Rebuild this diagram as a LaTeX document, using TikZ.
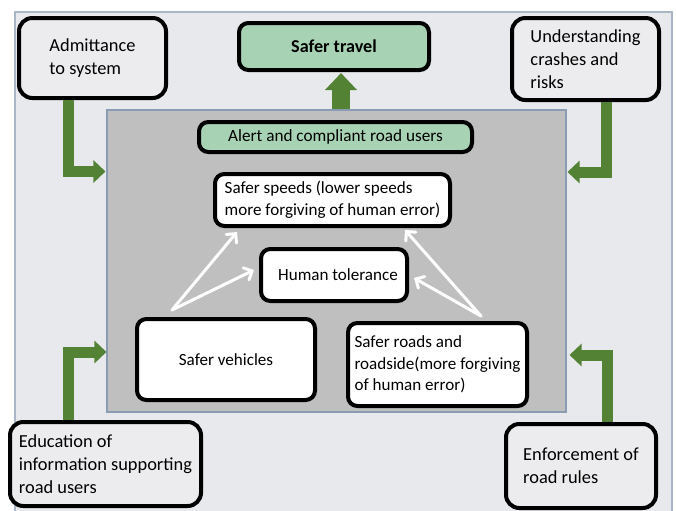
\documentclass[tikz,border=0pt]{standalone}
\usepackage{fontspec}
\setmainfont{Carlito}
\usetikzlibrary{arrows.meta,calc}
\definecolor{bgc}{HTML}{E8E9ED}
\definecolor{bordc}{HTML}{A9B6C8}
\definecolor{boxc}{HTML}{ECECEE}
\definecolor{sysc}{HTML}{BFBFBF}
\definecolor{sysb}{HTML}{8A9BB4}
\definecolor{mint}{HTML}{A8D2B4}
\definecolor{arrg}{HTML}{548235}
\tikzset{
  base/.style={draw=black, line width=3pt, inner sep=0pt, align=left},
  obox/.style={base, rounded corners=10pt, fill=boxc, font=\fontsize{13.8}{17.25}\selectfont},
  ibox/.style={base, rounded corners=7pt, fill=white, font=\fontsize{12.8}{16.2}\selectfont},
  gbox/.style={base, rounded corners=7pt, fill=mint},
  garr/.style={draw=arrg, line width=8.25pt, line join=miter,
    -{Triangle[length=9pt, width=16.5pt]}},
  warr/.style={draw=white, line width=2.25pt, line cap=round,
    -{Straight Barb[length=5pt, width=10pt, line cap=round]}}
}
\begin{document}
\begin{tikzpicture}[x=0.75pt,y=-0.75pt]
\useasboundingbox (0,0) rectangle (676,511);
\fill[white] (0,0) rectangle (676,511);
\draw[fill=bgc, draw=bordc, line width=0.8pt] (15,12) rectangle (672,512);

% central system panel
\node[draw=sysb, fill=sysc, line width=0.8pt, minimum width=344.25pt, minimum height=226.5pt, inner sep=0pt] (sys) at (336.5,261) {};

% outer boxes
\node[obox, minimum width=110.25pt, minimum height=60pt] (adm) at (92.5,58) {Admittance\\to system};
\node[obox, minimum width=110.25pt, minimum height=61.5pt] (und) at (585.5,59) {Understanding\\crashes and\\risks};
\node[obox, minimum width=143.25pt, minimum height=63pt] (edu) at (105.5,464) {Education of\\information supporting\\road users};
\node[obox, minimum width=112.5pt, minimum height=63pt] (enf) at (581,466) {Enforcement of\\road rules};

% green boxes
\node[gbox, minimum width=142.5pt, minimum height=35.25pt, font=\fontsize{13.6}{16}\selectfont\bfseries] (trv) at (334,46.5) {Safer travel};
\node[gbox, minimum width=204.75pt, minimum height=22.5pt, font=\fontsize{12.9}{16}\selectfont] (alr) at (335.5,137) {Alert and compliant road users};

% inner boxes
\node[ibox, minimum width=176.25pt, minimum height=39pt] (spd) at (332.5,200) {Safer speeds (lower speeds\\more forgiving of human error)};
\node[ibox, minimum width=109.5pt, minimum height=39pt] (hum) at (334,275) {\hspace*{6pt}Human tolerance};
\node[ibox, minimum width=133.5pt, minimum height=60.75pt] (veh) at (226,359.5) {Safer vehicles};
\node[ibox, minimum width=134.25pt, minimum height=62.25pt] (rds) at (437.5,364.5) {Safer roads and\\roadside(more forgiving\\of human error)};

% bend coordinates for green arrows
\coordinate (cL1) at (68.5,171.5);
\coordinate (cR1) at (606,172);
\coordinate (cL2) at (68.5,352);
\coordinate (cR2) at (607.5,355);
\coordinate (cT) at (341,73);

\draw[garr] (adm.south -| cL1) |- ($(sys.west |- cL1)+(-1,0)$);
\draw[garr] (und.south -| cR1) |- ($(sys.east |- cR1)+(1,0)$);
\draw[garr] (edu.north -| cL2) |- (sys.west |- cL2);
\draw[garr] (enf.north -| cR2) |- ($(sys.east |- cR2)+(3,0)$);
\draw[draw=arrg, line width=13.5pt, -{Triangle[length=12.75pt, width=23.25pt]}] (sys.north -| cT) -- (cT);

% white arrows
\coordinate (vO) at ($(veh.north)+(-54,-7)$);
\coordinate (rO) at ($(rds.north)+(43.5,-5)$);
\draw[warr] (vO) -- ($(spd.south)+(-95.5,4)$);
\draw[warr] (vO) -- ($(hum.west)+(-5,-5)$);
\draw[warr] (rO) -- ($(spd.south)+(72.5,2)$);
\draw[warr] (rO) -- ($(hum.east)+(5,3)$);
\end{tikzpicture}
\end{document}
